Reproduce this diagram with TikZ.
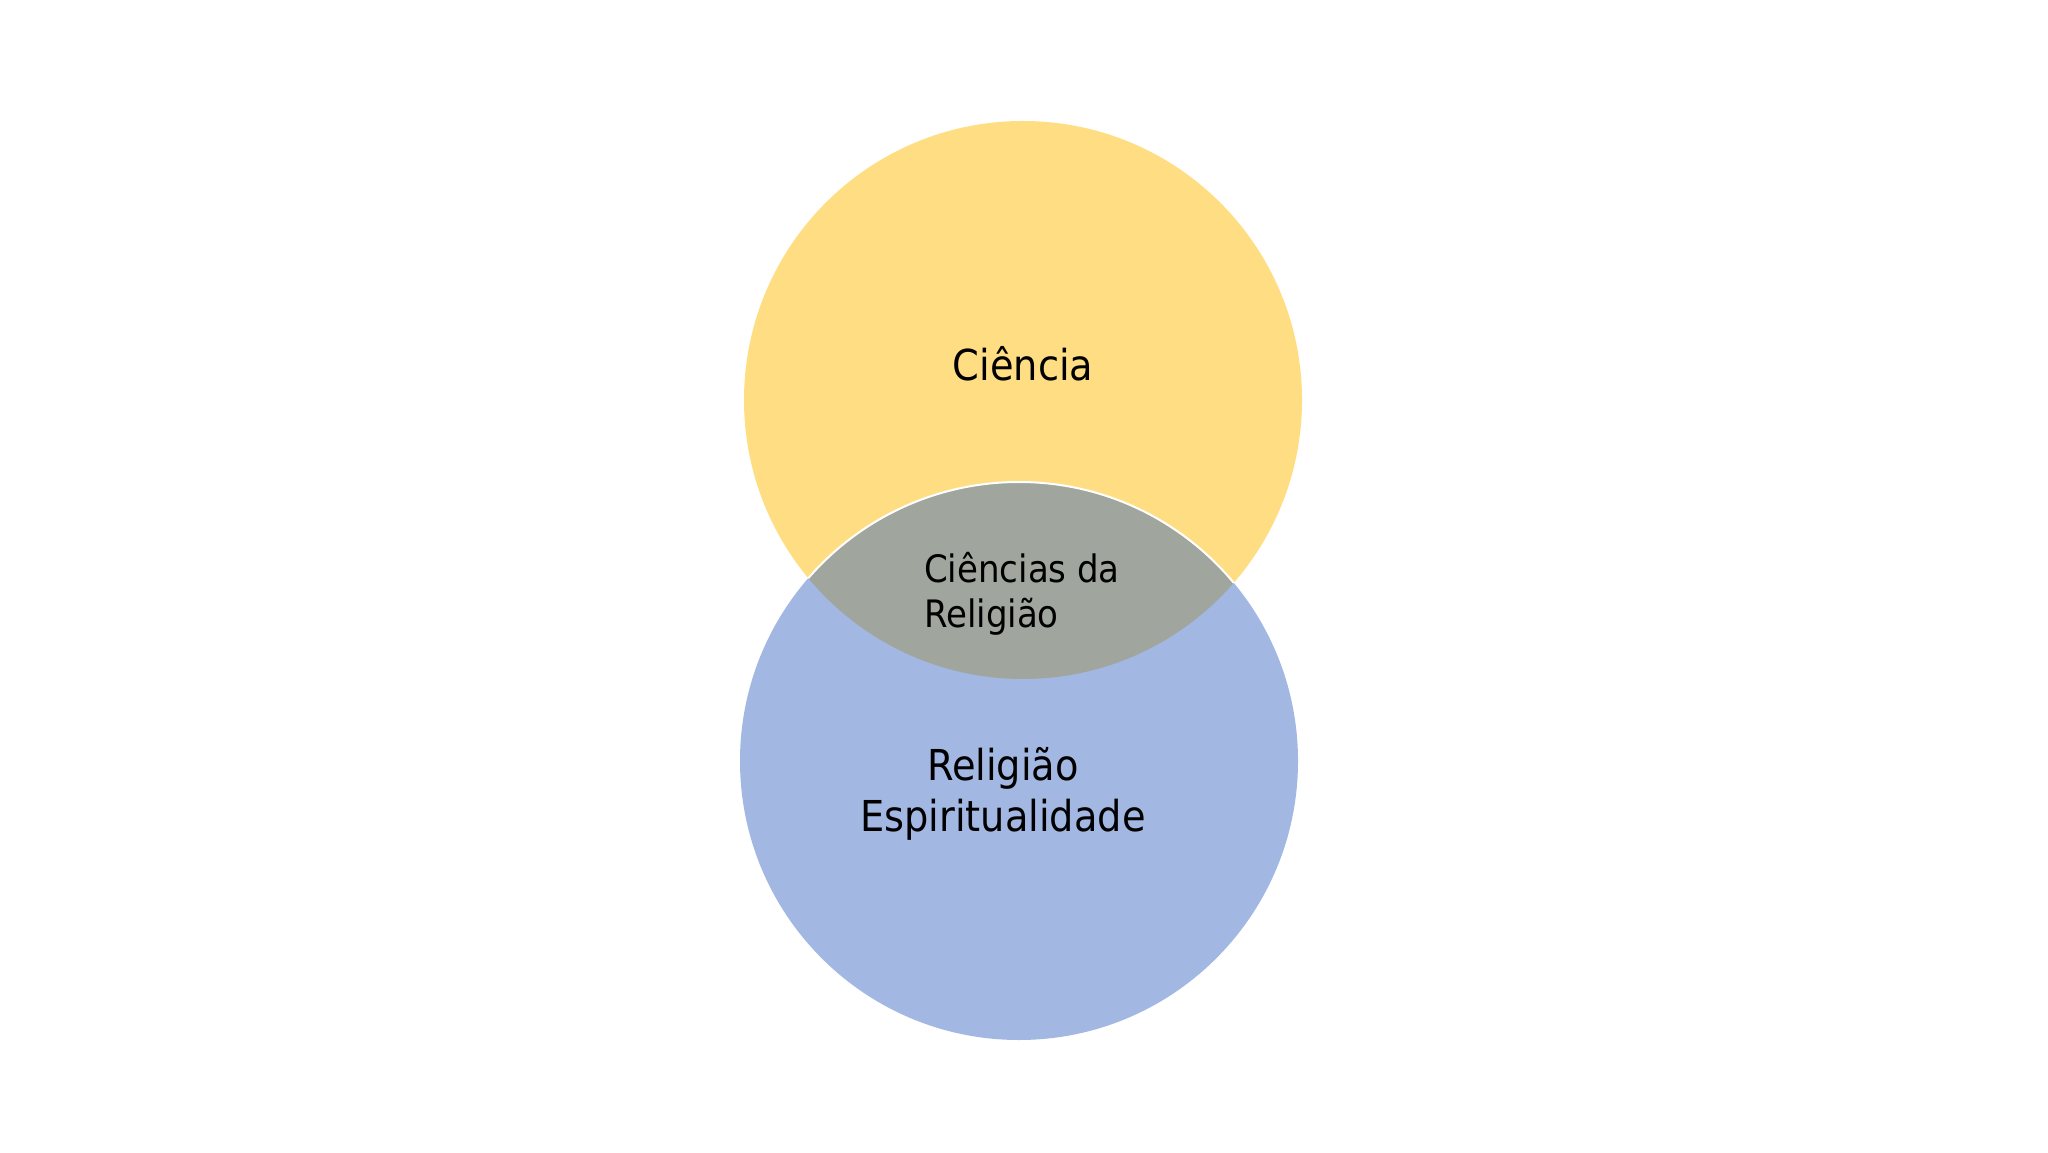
\documentclass[tikz,border=0pt]{standalone}
\usepackage{fontspec}
\setmainfont{DejaVu Sans Condensed}
\definecolor{sciyellow}{RGB}{255,222,131}
\definecolor{relblue}{RGB}{162,183,226}
\definecolor{lensgray}{RGB}{160,166,158}
\begin{document}
\begin{tikzpicture}[x=0.5pt,y=0.5pt,
  label big/.style={font=\fontsize{21.3}{25.3}\selectfont,align=center,inner sep=0pt},
  label small/.style={font=\fontsize{18.9}{22.2}\selectfont,align=left,inner sep=0pt}]

\def\rr{279} %circle radius
\coordinate (sci) at (1023,752); %science centre
\coordinate (rel) at (1019,391); %religion centre

%page
\fill[white] (0,0) rectangle (2048,1152);
\useasboundingbox (0,0) rectangle (2048,1152);

%circles
\fill[sciyellow] (sci) circle (\rr);
\fill[relblue] (rel) circle (\rr);

%overlap
\begin{scope}
\clip (sci) circle (\rr);
\fill[lensgray] (rel) circle (\rr);
\draw[white,line width=1pt] (rel) circle (\rr); %top edge
\end{scope}

%labels
\node[label big] (ciencia) at (1023,788) {Ciência};
\node[label small] (ciencias) at (1022,558) {Ciências da\\Religião};
\node[label big] (religiao) at (1003,358) {Religião\\Espiritualidade};
\end{tikzpicture}
\end{document}
